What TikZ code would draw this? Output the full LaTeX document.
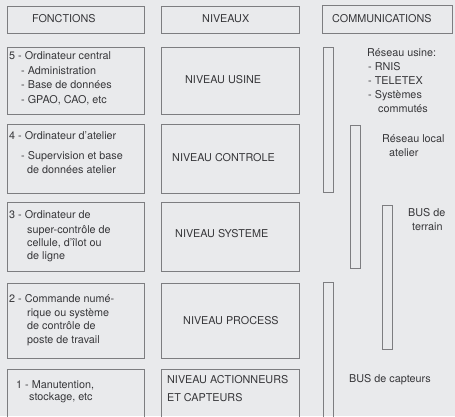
\documentclass[tikz,border=0pt]{standalone}
\usepackage{fontspec}
\setmainfont{TeX Gyre Heros}
\definecolor{paper}{RGB}{233,234,236}
\definecolor{ink}{RGB}{55,55,58}
\definecolor{rule}{RGB}{125,125,128}

\begin{document}
\begin{tikzpicture}[x=1pt,y=-1pt,
	frame/.style={draw=rule,line width=0.7pt,inner sep=0pt,anchor=north west},
	bar/.style={frame,minimum width=9.5pt},
	txt/.style={anchor=base west,inner sep=0pt,text=ink,font=\fontsize{10.8}{13}\selectfont}]

	% page
	\fill[paper] (0,0) rectangle (455,416);
	\clip (0,0) rectangle (455,416);

	% headings
	\node[frame,minimum width=137pt,minimum height=27pt] (hfct) at (7,6) {};
	\node[frame,minimum width=138pt,minimum height=27pt] (hniv) at (161,6) {};
	\node[frame,minimum width=130pt,minimum height=28pt] (hcom) at (322,5) {};
	\node[txt] (thfct) at (32,22) {FONCTIONS};
	\node[txt] (thniv) at (202,22) {NIVEAUX};
	\node[txt] (thcom) at (332,22) {COMMUNICATIONS};

	% fonctions
	\node[frame,minimum width=137pt,minimum height=67pt] (fct5) at (7,47) {};
	\node[frame,minimum width=137pt,minimum height=69pt] (fct4) at (7,124) {};
	\node[frame,minimum width=137pt,minimum height=69pt] (fct3) at (7,202) {};
	\node[frame,minimum width=137pt,minimum height=75pt] (fct2) at (7,283) {};
	\node[frame,minimum width=137pt,minimum height=60pt] (fct1) at (7,369) {};

	\node[txt] (t5a) at (9,59) {5 - Ordinateur central};
	\node[txt] (t5b) at (21,74) {- Administration};
	\node[txt] (t5c) at (21,88) {- Base de données};
	\node[txt] (t5d) at (21,103) {- GPAO, CAO, etc};

	\node[txt] (t4a) at (9,139) {4 - Ordinateur d'atelier};
	\node[txt] (t4b) at (21,159) {- Supervision et base};
	\node[txt] (t4c) at (27,173) {de données atelier};

	\node[txt] (t3a) at (9,218) {3 - Ordinateur de};
	\node[txt] (t3b) at (27,233) {super-contrôle de};
	\node[txt] (t3c) at (27,246) {cellule, d'îlot ou};
	\node[txt] (t3d) at (27,259) {de ligne};

	\node[txt] (t2a) at (9,302) {2 - Commande numé-};
	\node[txt] (t2b) at (27,316) {rique ou système};
	\node[txt] (t2c) at (27,329) {de contrôle de};
	\node[txt] (t2d) at (27,343) {poste de travail};

	\node[txt] (t1a) at (16,388) {1 - Manutention,};
	\node[txt] (t1b) at (29,400) {stockage, etc};

	% niveaux
	\node[frame,minimum width=138pt,minimum height=67pt] (niv5) at (161,47) {};
	\node[frame,minimum width=138pt,minimum height=69pt] (niv4) at (161,124) {};
	\node[frame,minimum width=138pt,minimum height=69pt] (niv3) at (161,202) {};
	\node[frame,minimum width=138pt,minimum height=75pt] (niv2) at (161,283) {};
	\node[frame,minimum width=138pt,minimum height=60pt] (niv1) at (161,369) {};

	\node[txt] (tn5) at (185,83) {NIVEAU USINE};
	\node[txt] (tn4) at (172,161) {NIVEAU CONTROLE};
	\node[txt] (tn3) at (175,237) {NIVEAU SYSTEME};
	\node[txt] (tn2) at (183,324) {NIVEAU PROCESS};
	\node[txt] (tn1a) at (167,383) {NIVEAU ACTIONNEURS};
	\node[txt] (tn1b) at (167,401) {ET CAPTEURS};

	% communications
	\node[bar,minimum height=145pt] (busA) at (323,47) {};
	\node[bar,minimum height=143pt] (busB) at (350,125) {};
	\node[bar,minimum height=144pt] (busC) at (382,205) {};
	\node[bar,minimum height=150pt] (busD) at (323,282) {};

	\node[txt] (tca) at (367,56) {Réseau usine:};
	\node[txt] (tcb) at (368,70) {- RNIS};
	\node[txt] (tcc) at (368,84) {- TELETEX};
	\node[txt] (tcd) at (368,98) {- Systèmes};
	\node[txt] (tce) at (378,112) {commutés};
	\node[txt] (tcf) at (382,142) {Réseau local};
	\node[txt] (tcg) at (389,156) {atelier};
	\node[txt] (tch) at (408,216) {BUS de};
	\node[txt] (tci) at (412,230) {terrain};
	\node[txt] (tcj) at (349,382) {BUS de capteurs};
\end{tikzpicture}
\end{document}
